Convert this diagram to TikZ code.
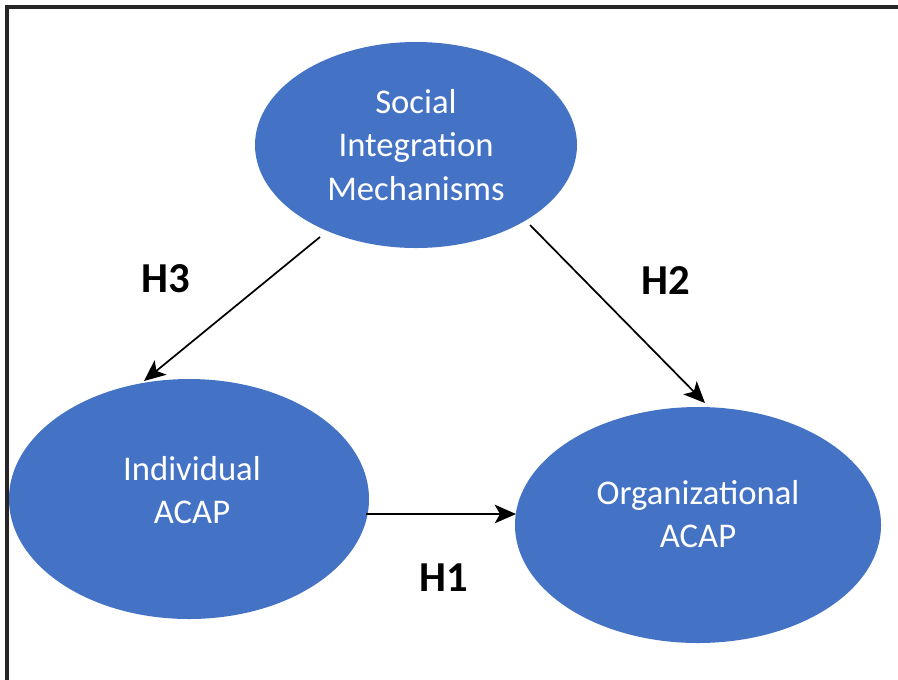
\documentclass[tikz,border=0pt]{standalone}
\usepackage{fontspec}
\setmainfont{Carlito}
\usetikzlibrary{arrows.meta,shapes.geometric}
\definecolor{oblue}{HTML}{4472C4}
\tikzset{
  bub/.style={ellipse, fill=oblue, inner sep=0pt},
  btxt/.style={text=white, align=center, inner sep=0pt, font=\fontsize{26}{32.5}\selectfont},
  conn/.style={line width=1.3pt, -{Stealth[length=16pt,width=14pt,inset=4pt]}},
  hlab/.style={font=\fontsize{32}{38}\selectfont\bfseries, text=black}
}
\begin{document}
\begin{tikzpicture}[x=0.75pt,y=-0.75pt]
\useasboundingbox (0,0) rectangle (898,679);
\fill[white] (0,0) rectangle (898,679);
\draw[line width=3pt, color=black!85] (6.5,720) -- (6.5,6.5) -- (940,6.5);
\node[bub, minimum width=322*0.75pt, minimum height=206*0.75pt] (sim) at (416,145) {};
\node[btxt] (simt) at (sim) {Social\\Integration\\Mechanisms};
\node[bub, minimum width=360*0.75pt, minimum height=240*0.75pt] (ind) at (189,499) {};
\node[btxt] (indt) at (192,490) {Individual\\ACAP};
\node[bub, minimum width=366*0.75pt, minimum height=236*0.75pt] (org) at (698,525) {};
\node[btxt] (orgt) at (698,514) {Organizational\\ACAP};
\coordinate (h3s) at (320,237);
\coordinate (h3e) at (144,381);
\coordinate (h2s) at (530,225);
\coordinate (h2e) at (705,403);
\coordinate (h1s) at (366,514);
\coordinate (h1e) at (516,514);
\draw[conn] (h3s) -- (h3e);
\draw[conn] (h2s) -- (h2e);
\draw[conn] (h1s) -- (h1e);
\node[hlab] (l3) at (166,279) {H3};
\node[hlab] (l2) at (666,281) {H2};
\node[hlab] (l1) at (444,578) {H1};
\end{tikzpicture}
\end{document}
